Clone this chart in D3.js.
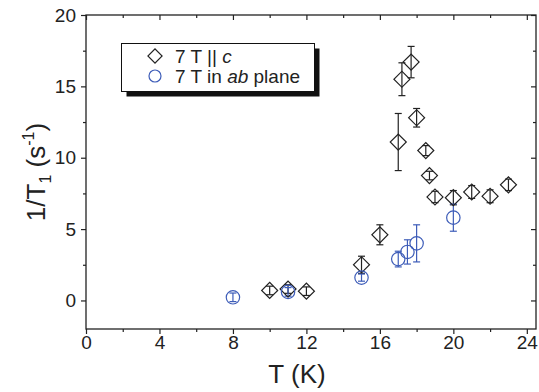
<!DOCTYPE html>
<html>
<head>
<meta charset="utf-8">
<script src="https://cdn.jsdelivr.net/npm/d3@7"></script>
<style>
  body { margin: 0; background: #fff; }
  text { font-family: "Liberation Sans", Arial, sans-serif; fill: #222; }
</style>
</head>
<body>
<div id="chart"></div>
<script>
// 7 T || c  (diamonds)
const cT   = [10, 11, 12, 15, 16, 17, 17.2, 17.7, 18, 18.5, 18.7, 19, 20, 21, 22, 23];
const cVal = [0.7, 0.8, 0.65, 2.5, 4.6, 11.1, 15.5, 16.7, 12.8, 10.5, 8.75, 7.25, 7.2, 7.6, 7.3, 8.1];
const cErr = [0.3, 0.3, 0.3, 0.6, 0.7, 2.0, 1.15, 1.1, 0.65, 0.35, 0.3, 0.4, 0.5, 0.45, 0.45, 0.4];

// 7 T in ab plane  (circles)
const abT   = [8, 11, 15, 17, 17.5, 18, 20];
const abVal = [0.22, 0.6, 1.6, 2.9, 3.4, 4.0, 5.8];
const abErr = [0.3, 0.3, 0.25, 0.55, 0.85, 1.3, 0.95];

const xMajor = [0, 4, 8, 12, 16, 20, 24];
const xMinor = [2, 6, 10, 14, 18, 22];
const yMajor = [0, 5, 10, 15, 20];
const yMinor = [2.5, 7.5, 12.5, 17.5];

const width = 539;
const height = 392;
const blue = '#3d5cb8';
const ink = '#222';

const x = d3.scaleLinear().domain([0, 24.5]).range([86, 536]);
const y = d3.scaleLinear().domain([-2, 20]).range([329, 15]);

const svg = d3.select('#chart')
  .append('svg')
  .attr('width', width)
  .attr('height', height);

function styleAxis(g, labels) {
  g.select('.domain').remove();
  g.selectAll('line').attr('stroke', ink).attr('stroke-width', 1.2);
  g.selectAll('text').attr('font-size', 19).attr('fill', ink);
  if (!labels) g.selectAll('text').remove();
}

// bottom + top
svg.append('g').attr('transform', `translate(0,${y(-2)})`)
  .call(d3.axisBottom(x).tickValues(xMajor).tickSize(5).tickPadding(2).tickFormat(d3.format('d')))
  .call(g => styleAxis(g, true));
svg.append('g').attr('transform', `translate(0,${y(-2)})`)
  .call(d3.axisBottom(x).tickValues(xMinor).tickSize(3))
  .call(g => styleAxis(g, false));
svg.append('g').attr('transform', `translate(0,${y(20)})`)
  .call(d3.axisTop(x).tickValues(xMajor).tickSize(-5))
  .call(g => styleAxis(g, false));
svg.append('g').attr('transform', `translate(0,${y(20)})`)
  .call(d3.axisTop(x).tickValues(xMinor).tickSize(-3))
  .call(g => styleAxis(g, false));

// left + right
svg.append('g').attr('transform', `translate(${x(0)},0)`)
  .call(d3.axisLeft(y).tickValues(yMajor).tickSize(5).tickPadding(5).tickFormat(d3.format('d')))
  .call(g => styleAxis(g, true));
svg.append('g').attr('transform', `translate(${x(0)},0)`)
  .call(d3.axisLeft(y).tickValues(yMinor).tickSize(3))
  .call(g => styleAxis(g, false));
svg.append('g').attr('transform', `translate(${x(24.5)},0)`)
  .call(d3.axisRight(y).tickValues(yMajor).tickSize(-5))
  .call(g => styleAxis(g, false));
svg.append('g').attr('transform', `translate(${x(24.5)},0)`)
  .call(d3.axisRight(y).tickValues(yMinor).tickSize(-3))
  .call(g => styleAxis(g, false));

// frame
svg.append('rect')
  .attr('x', x(0)).attr('y', y(20))
  .attr('width', x(24.5) - x(0)).attr('height', y(-2) - y(20))
  .attr('fill', 'none').attr('stroke', ink).attr('stroke-width', 1.3);

// axis titles
svg.append('text')
  .attr('x', 297).attr('y', 383)
  .attr('text-anchor', 'middle')
  .attr('font-size', 26)
  .text('T (K)');

const yt = svg.append('text')
  .attr('transform', 'translate(45,172) rotate(-90)')
  .attr('text-anchor', 'middle')
  .attr('font-size', 26);
yt.append('tspan').text('1/T');
yt.append('tspan').attr('font-size', 16).attr('dy', 6).text('1');
yt.append('tspan').attr('dy', -6).text(' (s');
yt.append('tspan').attr('font-size', 16).attr('dy', -11).text('-1');
yt.append('tspan').attr('dy', 11).text(')');

// error bars
function errorBars(T, V, E, color) {
  const data = T.map((t, i) => ({ t: t, v: V[i], e: E[i] }));
  const g = svg.append('g').attr('stroke', color).attr('stroke-width', 1.2);
  g.selectAll('line.stem').data(data).enter().append('line')
    .attr('x1', d => x(d.t)).attr('x2', d => x(d.t))
    .attr('y1', d => y(d.v + d.e)).attr('y2', d => y(d.v - d.e));
  g.selectAll('line.top').data(data).enter().append('line')
    .attr('x1', d => x(d.t) - 3.5).attr('x2', d => x(d.t) + 3.5)
    .attr('y1', d => y(d.v + d.e)).attr('y2', d => y(d.v + d.e));
  g.selectAll('line.bot').data(data).enter().append('line')
    .attr('x1', d => x(d.t) - 3.5).attr('x2', d => x(d.t) + 3.5)
    .attr('y1', d => y(d.v - d.e)).attr('y2', d => y(d.v - d.e));
  return data;
}

const cData = errorBars(cT, cVal, cErr, ink);
const abData = errorBars(abT, abVal, abErr, blue);

const diamond = d3.symbol().type(d3.symbolSquare).size(128);

svg.append('g').selectAll('path')
  .data(cData)
  .enter().append('path')
  .attr('d', diamond)
  .attr('transform', d => `translate(${x(d.t)},${y(d.v)}) rotate(45)`)
  .attr('fill', 'none')
  .attr('stroke', ink)
  .attr('stroke-width', 1.2);

svg.append('g').selectAll('circle')
  .data(abData)
  .enter().append('circle')
  .attr('cx', d => x(d.t))
  .attr('cy', d => y(d.v))
  .attr('r', 6.7)
  .attr('fill', 'none')
  .attr('stroke', blue)
  .attr('stroke-width', 1.2);

// legend
const lg = svg.append('g');
lg.append('rect')
  .attr('x', 126.5).attr('y', 48.5).attr('width', 193).attr('height', 48)
  .attr('fill', '#111');
lg.append('rect')
  .attr('x', 121.5).attr('y', 43.5).attr('width', 193).attr('height', 48)
  .attr('fill', '#fff').attr('stroke', '#111').attr('stroke-width', 1);

lg.append('path')
  .attr('d', d3.symbol().type(d3.symbolSquare).size(100))
  .attr('transform', 'translate(155,56) rotate(45)')
  .attr('fill', 'none').attr('stroke', ink).attr('stroke-width', 1.2);
lg.append('circle')
  .attr('cx', 155).attr('cy', 76).attr('r', 6)
  .attr('fill', 'none').attr('stroke', blue).attr('stroke-width', 1.2);

const t1 = lg.append('text').attr('x', 175).attr('y', 63).attr('font-size', 19);
t1.append('tspan').text('7 T || ');
t1.append('tspan').attr('font-style', 'italic').text('c');

const t2 = lg.append('text').attr('x', 175).attr('y', 83).attr('font-size', 19);
t2.append('tspan').text('7 T in ');
t2.append('tspan').attr('font-style', 'italic').text('ab');
t2.append('tspan').text(' plane');
</script>
</body>
</html>
